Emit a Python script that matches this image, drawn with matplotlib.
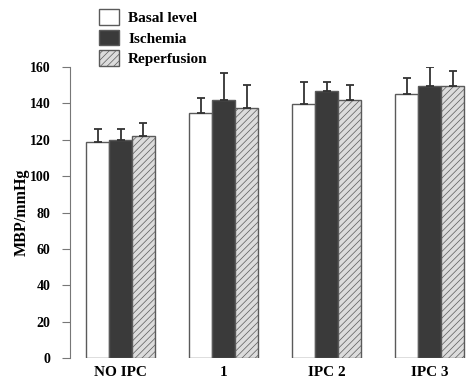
import matplotlib.pyplot as plt
import numpy as np

groups = ["NO IPC", "1", "IPC 2", "IPC 3"]
series = ["Basal level", "Ischemia", "Reperfusion"]
means = {
    "Basal level": [119, 134.5, 139.5, 145],
    "Ischemia": [120, 142, 147, 149.5],
    "Reperfusion": [122, 137.5, 142, 149.5],
}
errors = {
    "Basal level": [7, 8.5, 12.5, 9],
    "Ischemia": [6, 14.5, 5, 10.5],
    "Reperfusion": [7, 12.5, 8, 8.5],
}

plt.rcParams["font.family"] = ["Liberation Serif", "DejaVu Serif"]
plt.rcParams["font.weight"] = "bold"
plt.rcParams["hatch.color"] = "#c8c8c8"
plt.rcParams["hatch.linewidth"] = 0.5

fig = plt.figure(figsize=(4.72, 3.85), dpi=100)
ax = fig.add_axes([70 / 472, 27 / 385, 402 / 472, 291 / 385])

faces = ["white", "#3a3a3a", "#dcdcdc"]
hatches = [None, None, "/////"]
w = 0.223
x = np.arange(len(groups))
for i, s in enumerate(series):
    pos = x + (i - 1) * w
    ax.bar(pos, means[s], width=w, color=faces[i], edgecolor="#5a5a5a",
           linewidth=1.0, hatch=hatches[i], label=s, zorder=2)
    ax.errorbar(pos, means[s], yerr=[np.zeros(len(groups)), errors[s]],
                fmt="none", ecolor="#333333", elinewidth=1.3, capsize=3,
                capthick=1.3, zorder=3)

ax.set_xlim(-0.49, 3.41)
ax.set_ylim(0, 160)
ax.set_yticks(range(0, 161, 20))
ax.set_xticks(x)
ax.set_xticklabels(groups, fontsize=11, fontweight="bold")
ax.tick_params(axis="x", length=0, pad=6)
ax.tick_params(axis="y", length=6, color="#777777", labelsize=10, pad=8)
for t in ax.get_yticklabels():
    t.set_fontweight("bold")
for sp in ["top", "right", "bottom"]:
    ax.spines[sp].set_visible(False)
ax.spines["left"].set_color("#777777")
ax.spines["left"].set_bounds(0, 160)
ax.set_ylabel("MBP/mmHg", fontsize=11.5, fontweight="bold", labelpad=0)

ax.legend(loc="upper left", bbox_to_anchor=(90 / 472, 1.0), bbox_transform=fig.transFigure,
          frameon=False, fontsize=11, handlelength=1.3, handleheight=1.2,
          handletextpad=0.6, labelspacing=0.3, borderaxespad=0.2)

fig.savefig("out.png", dpi=100)
